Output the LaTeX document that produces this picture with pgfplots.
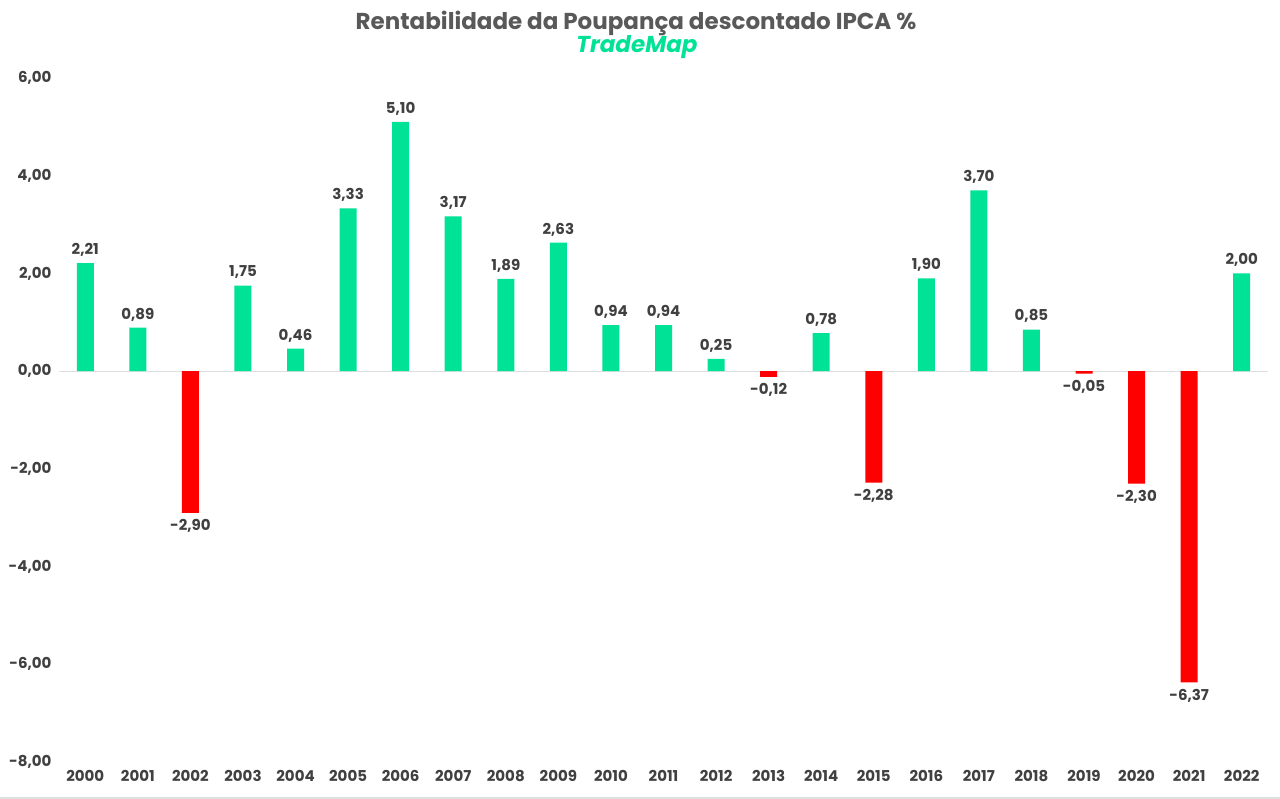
\documentclass[border=0pt]{standalone}
\usepackage{pgfplots}
\pgfplotsset{compat=1.18}
\usepackage{fontspec}
\setmainfont{Poppins}
\definecolor{tgreen}{HTML}{00E396}
\definecolor{tred}{HTML}{FF0000}
\definecolor{ttext}{HTML}{404040}
\definecolor{ttitle}{HTML}{595959}
\begin{document}
\begin{tikzpicture}
\useasboundingbox (0pt,0pt) rectangle (1280pt,799pt);
\fill[white] (0pt,0pt) rectangle (1280pt,799pt);
\draw[gray!25,line width=2pt] (0pt,1pt) -- (1280pt,1pt);
\node[font=\fontsize{23}{26}\selectfont\bfseries,text=ttitle] at (636pt,776pt) {Rentabilidade da Poupança descontado IPCA \%};
\node[font=\fontsize{23}{26}\selectfont\bfseries\itshape,text=tgreen] at (637pt,752pt) {TradeMap};
\begin{axis}[
  at={(59pt,37pt)}, anchor=south west,
  scale only axis, width=1209pt, height=684pt,
  xmin=-0.5, xmax=22.5, ymin=-8, ymax=6,
  ytick={-8,-6,-4,-2,0,2,4,6},
  xtick={0,...,22},
  xticklabels={2000,2001,2002,2003,2004,2005,2006,2007,2008,2009,2010,2011,2012,2013,2014,2015,2016,2017,2018,2019,2020,2021,2022},
  axis line style={draw=none},
  major tick length=0pt,
  tick label style={font=\fontsize{15}{17}\selectfont\bfseries, text=ttext},
  yticklabel style={xshift=-4pt},
  xticklabel style={yshift=-5pt},
  /pgf/number format/.cd, fixed, fixed zerofill, precision=2, use comma, assume math mode=true,
  /pgfplots/.cd,
  ybar, bar width=17pt, bar shift=0pt,
  nodes near coords,
  nodes near coords style={font=\fontsize{15}{17}\selectfont\bfseries, text=ttext, inner sep=6.5pt, /pgf/number format/.cd, fixed, fixed zerofill, precision=2, use comma, assume math mode=true},
  clip=false,
]
\draw[gray!25,line width=1pt] (axis cs:-0.5,0) -- (axis cs:22.5,0);
\addplot[fill=tgreen, draw=none] coordinates {
(0,2.21) (1,0.89) (3,1.75) (4,0.46) (5,3.33) (6,5.10) (7,3.17) (8,1.89) (9,2.63) (10,0.94) (11,0.94) (12,0.25) (14,0.78) (16,1.90) (17,3.70) (18,0.85) (22,2.00)};
\addplot[fill=tred, draw=none] coordinates {
(2,-2.90) (13,-0.12) (15,-2.28) (19,-0.05) (20,-2.30) (21,-6.37)};
\end{axis}
\end{tikzpicture}
\end{document}
